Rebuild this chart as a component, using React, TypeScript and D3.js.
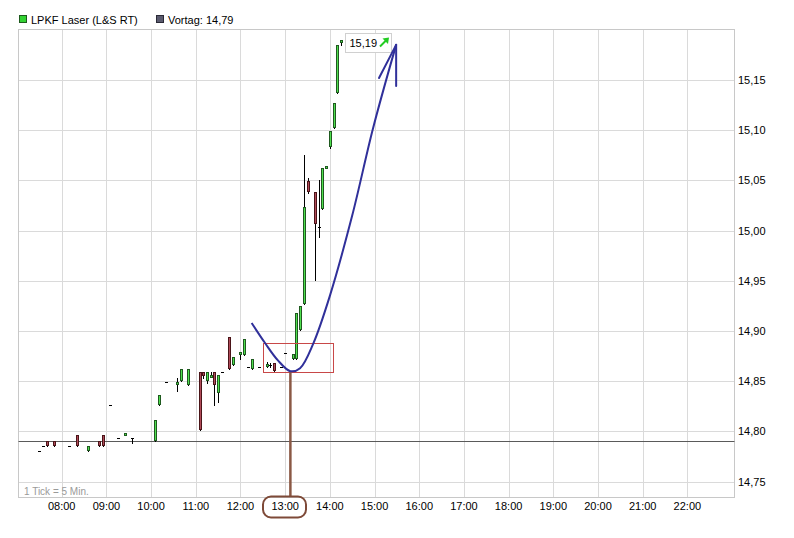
import React from 'react';
import * as d3 from 'd3';

// ---- data ----
const candleTimes = [
  "07:30","07:35","07:40","07:50","08:10","08:20","08:35","08:50","08:55","09:05",
  "09:15","09:25","09:35","10:05","10:10","10:20","10:35","10:40","10:50","11:05",
  "11:10","11:15","11:20","11:25","11:30","11:35","11:45","11:50","12:00","12:05",
  "12:10","12:15","12:25","12:35","12:40","12:45","12:55","13:00","13:10","13:15",
  "13:20","13:25","13:30","13:40","13:45","13:50","13:55","14:00","14:05","14:10","14:15"
];
const opens = [
  14.780,14.785,14.790,14.790,14.785,14.796,14.780,14.790,14.796,14.826,
  14.793,14.796,14.793,14.790,14.826,14.849,14.846,14.850,14.846,14.859,
  14.859,14.850,14.854,14.859,14.838,14.859,14.894,14.866,14.876,14.876,
  14.864,14.862,14.864,14.865,14.866,14.868,14.864,14.878,14.872,14.872,
  14.901,14.927,15.049,15.038,15.004,15.022,15.062,15.083,15.102,15.137,15.188
];
const highs = [
  14.780,14.785,14.790,14.790,14.785,14.796,14.785,14.790,14.796,14.826,
  14.793,14.798,14.793,14.811,14.836,14.849,14.853,14.862,14.862,14.859,
  14.859,14.859,14.859,14.859,14.856,14.859,14.894,14.874,14.879,14.892,
  14.864,14.872,14.864,14.869,14.868,14.868,14.864,14.878,14.877,14.918,
  14.925,15.075,15.052,15.038,15.050,15.062,15.064,15.099,15.127,15.185,15.190
];
const lows = [
  14.780,14.785,14.785,14.785,14.785,14.785,14.780,14.785,14.785,14.826,
  14.793,14.796,14.788,14.790,14.826,14.849,14.840,14.850,14.846,14.801,
  14.853,14.848,14.854,14.826,14.829,14.859,14.862,14.866,14.872,14.876,
  14.864,14.862,14.864,14.864,14.864,14.860,14.864,14.878,14.872,14.872,
  14.901,14.927,15.037,14.951,14.994,15.022,15.062,15.082,15.102,15.137,15.185
];
const closes = [
  14.780,14.785,14.785,14.785,14.785,14.785,14.785,14.785,14.785,14.826,
  14.793,14.798,14.793,14.811,14.836,14.849,14.849,14.862,14.862,14.801,
  14.855,14.859,14.856,14.846,14.856,14.859,14.862,14.874,14.879,14.892,
  14.864,14.872,14.864,14.867,14.866,14.860,14.864,14.878,14.877,14.918,
  14.925,15.024,15.038,15.007,15.004,15.062,15.064,15.099,15.127,15.185,15.190
];
const hourLabels = ["08:00","09:00","10:00","11:00","12:00","13:00","14:00","15:00",
  "16:00","17:00","18:00","19:00","20:00","21:00","22:00"];
const priceTicks = [14.75,14.80,14.85,14.90,14.95,15.00,15.05,15.10,15.15];
const prevClose = 14.79;
const lastPrice = 15.19;
const seriesName = "LPKF Laser (L&S RT)";
const prevLabel = "Vortag: 14,79";
const tickNote = "1 Tick = 5 Min.";

// hand-drawn annotation, in (minute of day, price)
const curveMinutes = [735, 753, 770, 787, 800, 818, 840, 870, 898, 929];
const curvePrices = [14.908, 14.888, 14.871, 14.860, 14.863, 14.888, 14.935, 15.015, 15.102, 15.185];
const barbMinutes = [906, 929];
const barbPrices = [15.152, 15.144];
const boxMinutes = [750, 844];
const boxPrices = [14.888, 14.859];
const markerMinute = 787;

const toMin = (s: string) => +s.slice(0, 2) * 60 + +s.slice(3);
const fmt = (v: number) => v.toFixed(2).replace('.', ',');

const FONT = '"Liberation Sans", Arial, sans-serif';

export default function App() {
  const left = 18.3, right = 734.3, top = 29, bottom = 497;
  const x = d3.scaleLinear().domain([421.7, 1383]).range([left, right]);
  const y = d3.scaleLinear().domain([14.75, 15.15]).range([481.6, 80]);

  const L = Math.round(left) + 0.5, R = Math.round(right) + 0.5;
  const T = top + 0.5, B = bottom + 0.5;

  const curve = d3.line<number>()
    .x((_, i) => x(curveMinutes[i]))
    .y((_, i) => y(curvePrices[i]))
    .curve(d3.curveCatmullRom.alpha(0.5))(curveMinutes);

  const tipX = x(curveMinutes[curveMinutes.length - 1]);
  const tipY = y(curvePrices[curvePrices.length - 1]);

  const candles = candleTimes.map((t, i) => {
    const cx = Math.round(x(toMin(t)));
    const o = opens[i], c = closes[i], h = highs[i], l = lows[i];
    const yh = Math.round(y(h)), yl = Math.round(y(l));
    const els: React.ReactNode[] = [];
    if (yl - yh > 0) {
      els.push(<line key="w" x1={cx + 0.5} x2={cx + 0.5} y1={yh} y2={yl + 1} stroke="#000" strokeWidth={1} />);
    }
    if (Math.abs(o - c) < 1e-9) {
      const yy = Math.round(y(o)) + 0.5;
      els.push(<line key="d" x1={cx - 1} x2={cx + 2} y1={yy} y2={yy} stroke="#000" strokeWidth={1} />);
    } else {
      const up = c > o;
      let yt = Math.round(y(Math.max(o, c)));
      let yb = Math.round(y(Math.min(o, c)));
      if (yb - yt < 3) yb = yt + 3;
      els.push(<rect key="o" x={cx - 1} y={yt} width={3} height={yb - yt} fill={up ? '#1f5a1f' : '#4a1418'} />);
      els.push(<rect key="f" x={cx} y={yt + 1} width={1} height={yb - yt - 2} fill={up ? '#4fe04f' : '#b04a58'} />);
    }
    return <g key={i}>{els}</g>;
  });

  const lastY = y(lastPrice);
  const boxX = 345.5, boxW = 46, boxY = Math.round(lastY) - 6.5, boxH = 19;

  return (
    <svg width={794} height={538} style={{ position: 'absolute', left: 0, top: 0, background: '#fff' }}
      fontFamily={FONT}>
      <rect x={0} y={0} width={794} height={538} fill="#fff" />
      {/* legend */}
      <rect x={19.5} y={15.5} width={7} height={7} fill="#33d233" stroke="#1d5a1d" />
      <text x={31} y={23.5} fontSize={11} fill="#000">{seriesName}</text>
      <rect x={156.5} y={15.5} width={7} height={7} fill="#5a5a6e" stroke="#2a2a36" />
      <text x={168} y={23.5} fontSize={11} fill="#000">{prevLabel}</text>

      {/* grid */}
      {hourLabels.map((h) => {
        const gx = Math.round(x(toMin(h))) + 0.5;
        return <line key={h} x1={gx} x2={gx} y1={T} y2={B} stroke="#dadada" />;
      })}
      {priceTicks.map((p) => {
        const gy = Math.round(y(p)) + 0.5;
        return <line key={p} x1={L} x2={R} y1={gy} y2={gy} stroke="#dadada" />;
      })}
      <rect x={L} y={T} width={R - L} height={B - T} fill="none" stroke="#c8c8c8" />

      {/* previous close */}
      <line x1={L} x2={R} y1={Math.round(y(prevClose)) + 0.5} y2={Math.round(y(prevClose)) + 0.5} stroke="#5a5a5a" />

      {/* axis labels */}
      {priceTicks.map((p) => (
        <text key={p} x={738} y={y(p) + 4} fontSize={11} fill="#000">{fmt(p)}</text>
      ))}
      {hourLabels.map((h) => (
        <text key={h} x={x(toMin(h))} y={510} fontSize={11} fill="#000" textAnchor="middle">{h}</text>
      ))}
      <text x={24} y={495} fontSize={10} fill="#9a9a9a">{tickNote}</text>

      {/* candles */}
      {candles}

      {/* last price label */}
      <rect x={boxX} y={boxY} width={boxW} height={boxH} fill="#fff" stroke="#d0d0d0" />
      <text x={349.5} y={boxY + 13.5} fontSize={11} fill="#000">{fmt(lastPrice)}</text>
      <path d={`M${380} ${boxY + 13} L${386} ${boxY + 7}`} stroke="#22cc22" strokeWidth={2} />
      <path d={`M${389} ${boxY + 4} L${382.5} ${boxY + 5} L${388} ${boxY + 10.5} Z`} fill="#22cc22" />

      {/* annotations */}
      <rect x={Math.round(x(boxMinutes[0])) + 0.5} y={Math.round(y(boxPrices[0])) + 0.5}
        width={Math.round(x(boxMinutes[1])) - Math.round(x(boxMinutes[0]))}
        height={Math.round(y(boxPrices[1])) - Math.round(y(boxPrices[0]))}
        fill="none" stroke="#c84848" strokeWidth={1} />
      <line x1={x(markerMinute)} x2={x(markerMinute)} y1={y(boxPrices[1])} y2={496} stroke="#8a5844" strokeWidth={2.5} />
      <rect x={263} y={496.5} width={43} height={21} rx={8} ry={8} fill="none" stroke="#7e4a38" strokeWidth={2} />
      <path d={curve || ''} fill="none" stroke="#30309a" strokeWidth={2} strokeLinejoin="round" />
      <line x1={tipX} y1={tipY} x2={x(barbMinutes[0])} y2={y(barbPrices[0])} stroke="#30309a" strokeWidth={2} strokeLinecap="round" />
      <line x1={tipX} y1={tipY} x2={x(barbMinutes[1])} y2={y(barbPrices[1])} stroke="#30309a" strokeWidth={2} strokeLinecap="round" />
    </svg>
  );
}
